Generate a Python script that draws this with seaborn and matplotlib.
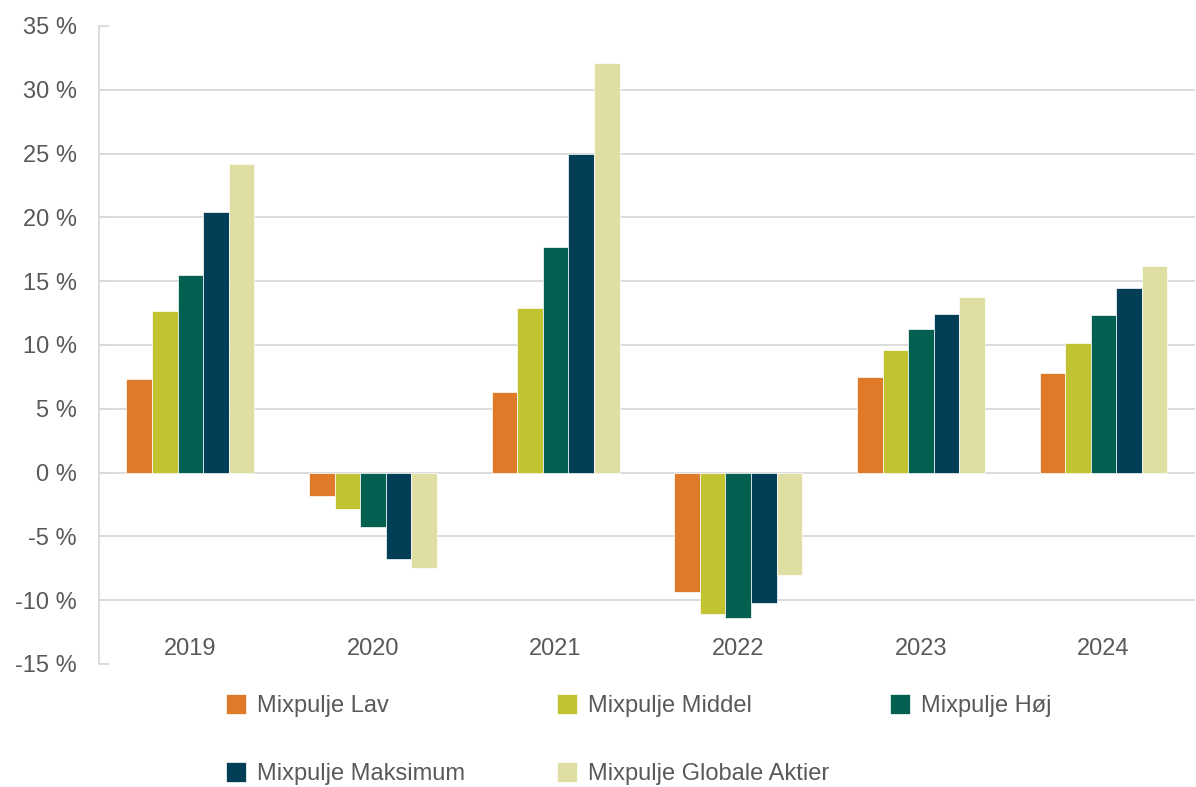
import pandas as pd
import numpy as np
import seaborn as sns
from matplotlib import pyplot as plt

years = ["2019", "2020", "2021", "2022", "2023", "2024"]
pools = ["Mixpulje Lav", "Mixpulje Middel", "Mixpulje Høj", "Mixpulje Maksimum", "Mixpulje Globale Aktier"]

lav = [7.3, -1.8, 6.3, -9.35, 7.5, 7.8]
middel = [12.7, -2.85, 12.9, -11.1, 9.6, 10.15]
hoej = [15.5, -4.3, 17.65, -11.4, 11.25, 12.35]
maksimum = [20.45, -6.8, 24.95, -10.2, 12.45, 14.5]
globale = [24.2, -7.45, 32.1, -8.05, 13.75, 16.2]

colors = ["#DF7A2A", "#C1C331", "#035F4F", "#023F57", "#E0DFA3"]

df = pd.DataFrame({"År": years * 5,
                   "Pulje": np.repeat(pools, len(years)),
                   "Afkast": lav + middel + hoej + maksimum + globale})

sns.set_style("white")
plt.rcParams["font.family"] = ["Liberation Sans", "DejaVu Sans"]
txt_color = "#595959"
grid_color = "#D9D9D9"

fig = plt.figure(figsize=(11.96, 7.87), dpi=100)
ax = fig.add_axes([0.0828, 0.1563, 0.9162, 0.8107])

sns.barplot(data=df, x="År", y="Afkast", hue="Pulje", hue_order=pools, order=years,
            palette=colors, saturation=1, width=0.7, edgecolor="white", linewidth=0.5,
            ax=ax, zorder=3)

ax.set_ylim(-15, 35)
ax.set_xlim(-0.5, 5.5)
ax.set_yticks(range(-15, 40, 5))
ax.set_yticklabels([f"{v} %" for v in range(-15, 40, 5)])
ax.yaxis.grid(True, color=grid_color, linewidth=1.3, zorder=0)
ax.set_axisbelow(True)
gl = ax.get_ygridlines()
gl[0].set_visible(False)
gl[-1].set_visible(False)

for s in ["top", "right", "bottom"]:
    ax.spines[s].set_visible(False)
ax.spines["left"].set_color(grid_color)
ax.spines["left"].set_linewidth(1.3)

ax.tick_params(axis="y", left=True, direction="in", length=7, width=1.3, color=grid_color,
               labelsize=17, labelcolor=txt_color, pad=16)
ax.tick_params(axis="x", length=0, labelsize=17, labelcolor=txt_color, pad=-19)
ax.set_xlabel("")
ax.set_ylabel("")

handles, labels = ax.get_legend_handles_labels()
ax.get_legend().remove()

cols = [[0, 3], [1, 4], [2]]
xs = [0.189, 0.4657, 0.744]
for idx, x in zip(cols, xs):
    fig.legend([handles[i] for i in idx], [labels[i] for i in idx],
               loc="upper left", bbox_to_anchor=(x, 0.118), frameon=False,
               fontsize=17, labelcolor=txt_color, borderpad=0, borderaxespad=0,
               handlelength=0.85, handleheight=0.9, handletextpad=0.45, labelspacing=1.9)

fig.savefig("out.png", dpi=100)
